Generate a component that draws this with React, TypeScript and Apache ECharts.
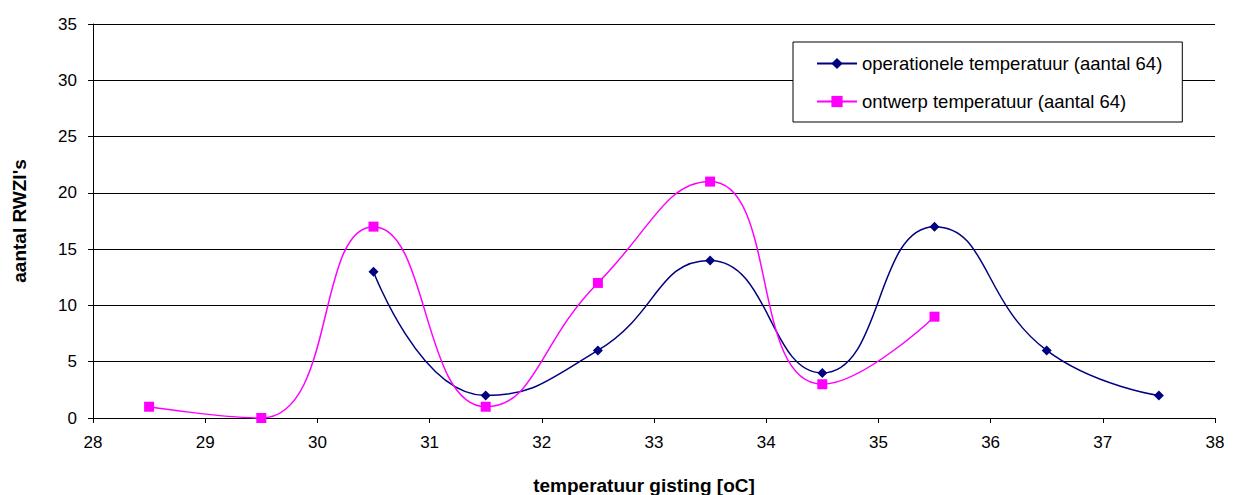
import React, { useEffect, useRef } from "react";
import * as echarts from "echarts";

const opX = [30.5, 31.5, 32.5, 33.5, 34.5, 35.5, 36.5, 37.5];
const opY = [13, 2, 6, 14, 4, 17, 6, 2];
const ontX = [28.5, 29.5, 30.5, 31.5, 32.5, 33.5, 34.5, 35.5];
const ontY = [1, 0, 17, 1, 12, 21, 3, 9];
const seriesNames = ["operationele temperatuur (aantal 64)", "ontwerp temperatuur (aantal 64)"];
const xTitle = "temperatuur gisting [oC]";
const yTitle = "aantal RWZI's";

export default function App() {
  const ref = useRef<HTMLDivElement>(null);
  useEffect(() => {
    const chart = echarts.init(ref.current!, null, { renderer: "svg" });
    const font = "'Liberation Sans', Arial, sans-serif";
    chart.setOption({
      animation: false,
      backgroundColor: "#fff",
      textStyle: { fontFamily: font },
      grid: { left: 93, right: 20, top: 24, bottom: 77, containLabel: false, outerBoundsMode: "none" },
      legend: {
        left: 793,
        top: 42,
        orient: "vertical",
        backgroundColor: "#fff",
        borderColor: "#000",
        borderWidth: 1,
        borderRadius: 0,
        padding: [12, 20, 11, 23],
        itemWidth: 40,
        itemHeight: 14,
        itemGap: 19,
        textStyle: { fontFamily: font, fontSize: 18.5, lineHeight: 18, color: "#000" },
        data: seriesNames,
      },
      xAxis: {
        type: "value",
        min: 28,
        max: 38,
        interval: 1,
        name: xTitle,
        nameLocation: "middle",
        nameGap: 58,
        nameTextStyle: { fontFamily: font, fontSize: 19, fontWeight: "bold", color: "#000", padding: [0, 20, 0, 0] },
        axisLine: { onZero: false, lineStyle: { color: "#000", width: 1 } },
        axisTick: { show: true, length: 5, lineStyle: { color: "#000" } },
        axisLabel: { fontFamily: font, fontSize: 17, color: "#000", margin: 16 },
        splitLine: { show: false },
      },
      yAxis: {
        type: "value",
        min: 0,
        max: 35,
        interval: 5,
        name: yTitle,
        nameLocation: "middle",
        nameGap: 64,
        nameTextStyle: { fontFamily: font, fontSize: 19, fontWeight: "bold", color: "#000" },
        axisLine: { show: true, lineStyle: { color: "#000", width: 1 } },
        axisTick: { show: true, length: 5, lineStyle: { color: "#000" } },
        axisLabel: { fontFamily: font, fontSize: 17, color: "#000", margin: 16 },
        splitLine: { show: true, lineStyle: { color: "#000", width: 1 } },
      },
      series: [
        {
          name: seriesNames[0],
          type: "line",
          smooth: 0.5,
          clip: false,
          data: opX.map((x, i) => [x, opY[i]]),
          symbol: "diamond",
          symbolSize: 10,
          itemStyle: { color: "#000080" },
          lineStyle: { color: "#000080", width: 1.5 },
        },
        {
          name: seriesNames[1],
          type: "line",
          smooth: 0.5,
          clip: false,
          data: ontX.map((x, i) => [x, ontY[i]]),
          symbol: "rect",
          symbolSize: 10,
          itemStyle: { color: "#FF00FF" },
          lineStyle: { color: "#FF00FF", width: 1.5 },
        },
      ],
    });
    return () => chart.dispose();
  }, []);
  return <div ref={ref} style={{ width: 1235, height: 495, position: "absolute", left: 0, top: 0 }} />;
}
